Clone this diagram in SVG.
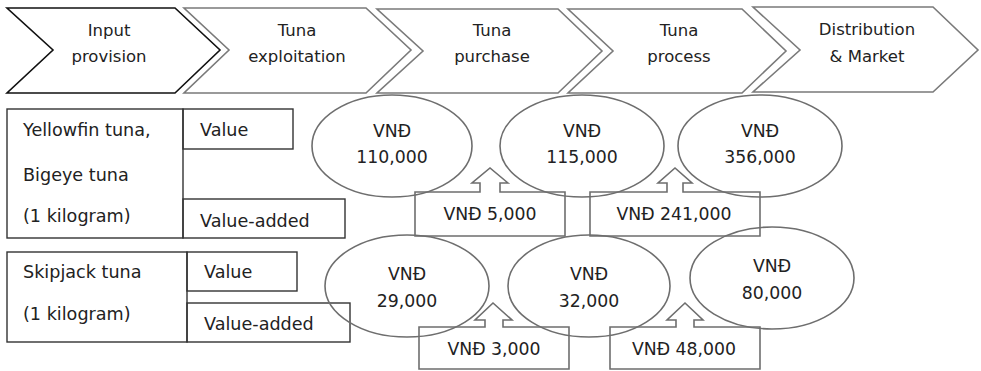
<svg xmlns="http://www.w3.org/2000/svg" width="981" height="371" viewBox="0 0 981 371">
<style>
text{font-family:"DejaVu Sans","Liberation Sans",sans-serif;fill:#222}
.chev{fill:none;stroke:#7a7a7a;stroke-width:1.6}
.chev.first{stroke:#111}
.ct{font-size:16.5px;text-anchor:middle}
.tbl{fill:none;stroke:#333;stroke-width:1.4}
.tt{font-size:17.6px}
.ell{fill:none;stroke:#6e6e6e;stroke-width:1.6}
.et{font-size:17.3px;text-anchor:middle}
.call{fill:none;stroke:#6e6e6e;stroke-width:1.6}
</style>
<g id="stages">
<g id="stage-input">
<polygon class="chev first" points="7,8 175,8 220,50 175,93 7,93 53,50"/>
<text class="ct" x="109" y="36">Input</text>
<text class="ct" x="109" y="62">provision</text>
</g>
<g id="stage-exploitation">
<polygon class="chev" points="184,8 366,8 411,50 366,93 184,93 229,50"/>
<text class="ct" x="297" y="36">Tuna</text>
<text class="ct" x="297" y="62">exploitation</text>
</g>
<g id="stage-purchase">
<polygon class="chev" points="377,9 558,9 602,51 558,93 377,93 423,51"/>
<text class="ct" x="492" y="36">Tuna</text>
<text class="ct" x="492" y="62">purchase</text>
</g>
<g id="stage-process">
<polygon class="chev" points="568,9 742,9 786,51 742,93 568,93 613,51"/>
<text class="ct" x="679" y="36">Tuna</text>
<text class="ct" x="679" y="62">process</text>
</g>
<g id="stage-distribution">
<polygon class="chev" points="753,7 933,7 978,50 933,92 753,92 800,50"/>
<text class="ct" x="867" y="35">Distribution</text>
<text class="ct" x="867" y="62">&amp; Market</text>
</g>
</g>
<g id="table-yellowfin">
<rect class="tbl" x="7" y="109" width="176" height="129"/>
<rect class="tbl" x="183" y="109" width="110" height="40"/>
<rect class="tbl" x="183" y="199" width="162" height="39"/>
<text class="tt" x="23" y="136">Yellowfin tuna,</text>
<text class="tt" x="23" y="181">Bigeye tuna</text>
<text class="tt" x="23" y="222">(1 kilogram)</text>
<text class="tt" x="200" y="136">Value</text>
<text class="tt" x="200" y="227">Value-added</text>
</g>
<g id="table-skipjack">
<rect class="tbl" x="7" y="252" width="180" height="90"/>
<rect class="tbl" x="187" y="252" width="110" height="39"/>
<rect class="tbl" x="187" y="303" width="163" height="39"/>
<text class="tt" x="23" y="278">Skipjack tuna</text>
<text class="tt" x="23" y="320">(1 kilogram)</text>
<text class="tt" x="204" y="278">Value</text>
<text class="tt" x="204" y="330">Value-added</text>
</g>
<g id="yf-exploitation">
<ellipse class="ell" cx="392" cy="146" rx="80" ry="51"/>
<text class="et" x="392" y="137">VNĐ</text>
<text class="et" x="392" y="163">110,000</text>
</g>
<g id="yf-purchase">
<ellipse class="ell" cx="582" cy="146" rx="82" ry="51"/>
<text class="et" x="582" y="137">VNĐ</text>
<text class="et" x="582" y="163">115,000</text>
</g>
<g id="yf-process">
<ellipse class="ell" cx="760" cy="146" rx="82" ry="51"/>
<text class="et" x="760" y="137">VNĐ</text>
<text class="et" x="760" y="163">356,000</text>
</g>
<g id="sj-exploitation">
<ellipse class="ell" cx="407" cy="286" rx="82" ry="51"/>
<text class="et" x="407" y="280">VNĐ</text>
<text class="et" x="407" y="307">29,000</text>
</g>
<g id="sj-purchase">
<ellipse class="ell" cx="589" cy="286" rx="81" ry="51"/>
<text class="et" x="589" y="280">VNĐ</text>
<text class="et" x="589" y="307">32,000</text>
</g>
<g id="sj-process">
<ellipse class="ell" cx="772" cy="278" rx="82" ry="51"/>
<text class="et" x="772" y="272">VNĐ</text>
<text class="et" x="772" y="299">80,000</text>
</g>
<g id="yf-added-1">
<path class="call" d="M415,192 H480 V183 H472 L490,168 L508,183 H500 V192 H565 V236 H415 Z"/>
<text class="et" x="490" y="220">VNĐ 5,000</text>
</g>
<g id="yf-added-2">
<path class="call" d="M590,192 H667 V183 H658 L675,168 L692,183 H683 V192 H760 V236 H590 Z"/>
<text class="et" x="674" y="220">VNĐ 241,000</text>
</g>
<g id="sj-added-1">
<path class="call" d="M419,327 H485 V320 H475 L493,303 L512,320 H503 V327 H569 V369 H419 Z"/>
<text class="et" x="494" y="355">VNĐ 3,000</text>
</g>
<g id="sj-added-2">
<path class="call" d="M610,327 H676 V320 H667 L685,303 L703,320 H694 V327 H760 V369 H610 Z"/>
<text class="et" x="684" y="355">VNĐ 48,000</text>
</g>
<g id="connectors"/>
</svg>
